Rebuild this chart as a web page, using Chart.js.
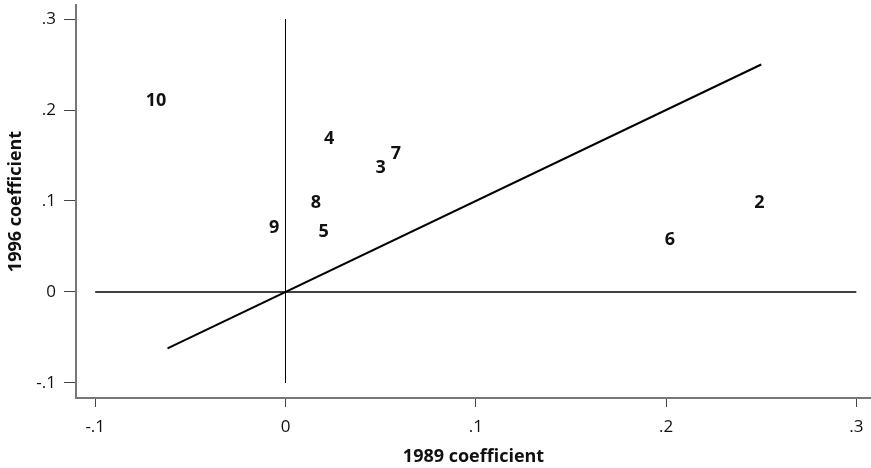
<!DOCTYPE html>
<html>
<head>
<meta charset="utf-8">
<script src="https://cdn.jsdelivr.net/npm/chart.js@4"></script>
<style>
  html, body { margin: 0; padding: 0; background: #fff; }
  #wrap { width: 871px; height: 468px; }
</style>
</head>
<body>
<div id="wrap"><canvas id="chart" width="871" height="468"></canvas></div>
<script>
// group numbers and their coefficients
var groupLabels = ['2', '3', '4', '5', '6', '7', '8', '9', '10'];
var coef1989 = [0.249, 0.050, 0.023, 0.020, 0.202, 0.058, 0.016, -0.006, -0.068];
var coef1996 = [0.098, 0.136, 0.168, 0.066, 0.057, 0.152, 0.098, 0.071, 0.210];

// 45 degree line and the two zero lines
var diagX = [-0.062, 0.25];
var diagY = [-0.062, 0.25];
var tickValues = [-0.1, 0, 0.1, 0.2, 0.3];

function fmt(v) {
    if (Math.abs(v) < 1e-9) return '0';
    var s = (Math.round(v * 10) / 10).toString();
    return s.replace('0.', '.');
}

var pts = [];
for (var i = 0; i < groupLabels.length; i++) {
    pts.push({ x: coef1989[i], y: coef1996[i] });
}

var textLabels = {
    id: 'textLabels',
    afterDatasetsDraw: function (chart) {
        var ctx = chart.ctx;
        var meta = chart.getDatasetMeta(0);
        ctx.save();
        ctx.font = 'bold 18px "Open Sans"';
        ctx.fillStyle = '#111';
        ctx.textAlign = 'center';
        ctx.textBaseline = 'middle';
        meta.data.forEach(function (el, i) {
            ctx.fillText(groupLabels[i], el.x, el.y);
        });
        ctx.restore();
    }
};

var ctx = document.getElementById('chart').getContext('2d');
var myChart = new Chart(ctx, {
    type: 'scatter',
    data: {
        datasets: [
            { data: pts, pointRadius: 0, showLine: false },
            {
                data: [{ x: diagX[0], y: diagY[0] }, { x: diagX[1], y: diagY[1] }],
                showLine: true, borderColor: '#000', borderWidth: 2, pointRadius: 0
            },
            {
                data: [{ x: 0, y: tickValues[0] }, { x: 0, y: tickValues[4] }],
                showLine: true, borderColor: '#000', borderWidth: 1, pointRadius: 0
            },
            {
                data: [{ x: tickValues[0], y: 0 }, { x: tickValues[4], y: 0 }],
                showLine: true, borderColor: '#000', borderWidth: 1.5, pointRadius: 0
            }
        ]
    },
    options: {
        responsive: false,
        animation: false,
        layout: { padding: { top: 5, right: 0, left: 0, bottom: 0 } },
        plugins: { legend: { display: false }, tooltip: { enabled: false } },
        scales: {
            x: {
                type: 'linear',
                min: -0.1101,
                max: 0.3077,
                afterBuildTicks: function (s) { s.ticks = tickValues.map(function (v) { return { value: v }; }); },
                afterFit: function (s) { s.height = 70; s.paddingLeft = 0; s.paddingRight = 0; },
                grid: { drawOnChartArea: false, drawTicks: true, tickLength: 9, color: '#444' },
                border: { color: '#777', width: 2 },
                ticks: {
                    callback: function (v) { return fmt(v); },
                    color: '#111', padding: 10,
                    font: { family: '"Open Sans"', size: 17 }
                },
                title: {
                    display: true, text: '1989 coefficient', color: '#111',
                    font: { family: '"Open Sans"', size: 18, weight: 'bold' },
                    padding: { top: 0, bottom: 0 }
                }
            },
            y: {
                type: 'linear',
                min: -0.1165,
                max: 0.3154,
                afterBuildTicks: function (s) { s.ticks = tickValues.map(function (v) { return { value: v }; }); },
                afterFit: function (s) { s.width = 76; s.paddingTop = 0; s.paddingBottom = 0; },
                grid: { drawOnChartArea: false, drawTicks: true, tickLength: 12, color: '#444' },
                border: { color: '#777', width: 2 },
                ticks: {
                    callback: function (v) { return fmt(v); },
                    color: '#111', padding: 8,
                    font: { family: '"Open Sans"', size: 17 }
                },
                title: {
                    display: true, text: '1996 coefficient', color: '#111',
                    font: { family: '"Open Sans"', size: 18, weight: 'bold' },
                    padding: { top: 5, bottom: 0 }
                }
            }
        }
    },
    plugins: [textLabels]
});
</script>
</body>
</html>
